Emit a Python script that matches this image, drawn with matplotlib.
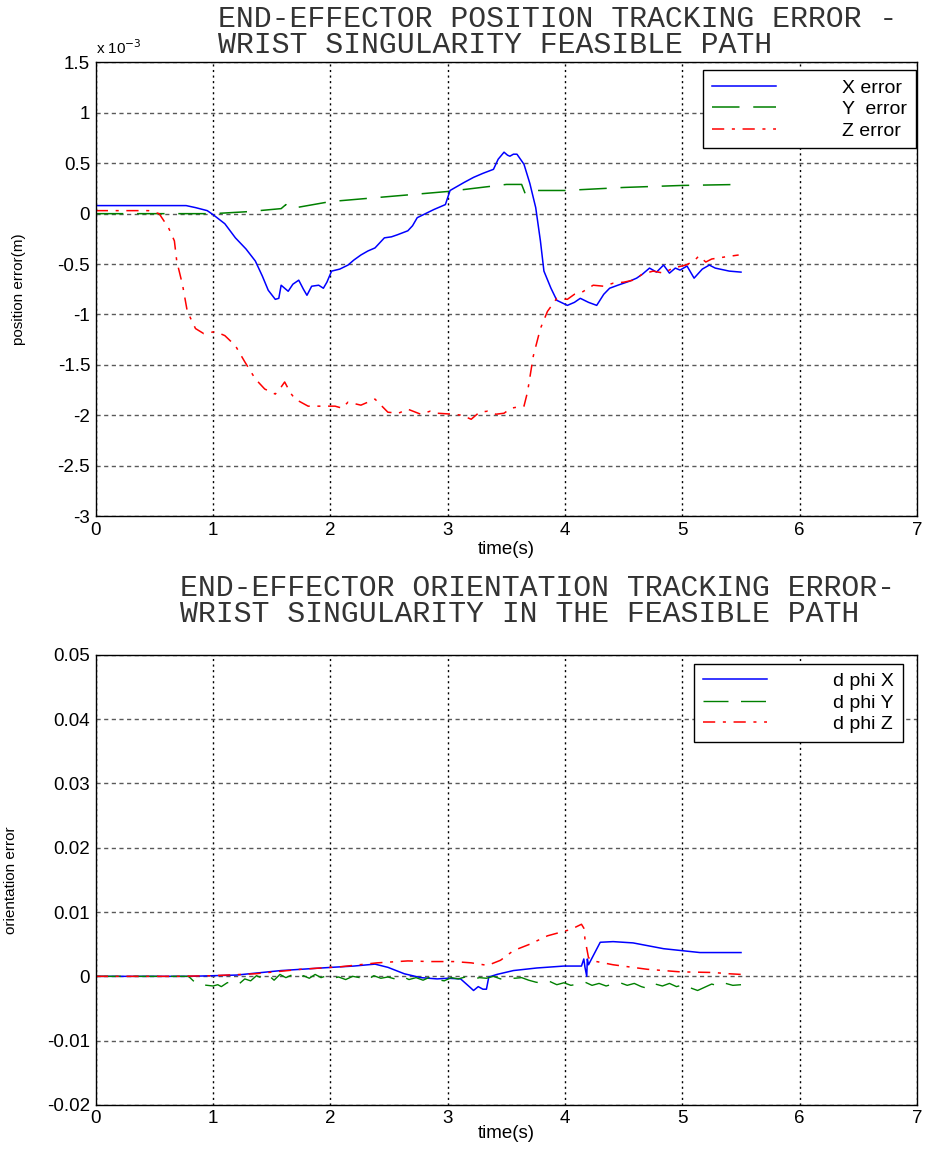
import matplotlib
matplotlib.use("Agg")
import matplotlib.pyplot as plt
from matplotlib.ticker import FuncFormatter, MultipleLocator

plt.rcParams['font.family'] = ['Liberation Sans', 'DejaVu Sans']

# ---- top plot: position error (units of 1e-3 m) ----
t_x = [0, 0.77, 0.85, 0.95, 1.0, 1.1, 1.19, 1.28, 1.36, 1.42,
       1.47, 1.53, 1.56, 1.58, 1.61, 1.64, 1.68, 1.73, 1.77, 1.80,
       1.84, 1.90, 1.94, 1.97, 2.01, 2.08, 2.15, 2.20, 2.26, 2.32,
       2.38, 2.46, 2.52, 2.57, 2.66, 2.70, 2.74, 2.81, 2.88, 2.98,
       3.02, 3.08, 3.14, 3.22, 3.30, 3.39, 3.43, 3.48, 3.51, 3.53,
       3.56, 3.59, 3.65, 3.70, 3.75, 3.79, 3.82, 3.88, 3.93, 4.02,
       4.08, 4.13, 4.20, 4.27, 4.33, 4.38, 4.45, 4.50, 4.55, 4.61,
       4.66, 4.72, 4.78, 4.84, 4.89, 4.94, 4.98, 5.04, 5.10, 5.17,
       5.23, 5.28, 5.32, 5.40, 5.50]
x_err = [0.08, 0.08, 0.06, 0.03, -0.01, -0.10, -0.24, -0.35, -0.47, -0.62,
         -0.76, -0.85, -0.84, -0.71, -0.74, -0.77, -0.70, -0.66, -0.75, -0.81,
         -0.72, -0.71, -0.74, -0.68, -0.57, -0.55, -0.51, -0.46, -0.41, -0.37,
         -0.34, -0.24, -0.23, -0.21, -0.17, -0.12, -0.04, 0.00, 0.04, 0.09,
         0.23, 0.27, 0.31, 0.36, 0.40, 0.44, 0.54, 0.61, 0.58, 0.57,
         0.59, 0.59, 0.49, 0.30, 0.06, -0.27, -0.57, -0.74, -0.86, -0.91,
         -0.88, -0.84, -0.88, -0.91, -0.80, -0.74, -0.71, -0.69, -0.67, -0.64,
         -0.60, -0.54, -0.58, -0.51, -0.59, -0.54, -0.56, -0.52, -0.64, -0.55,
         -0.51, -0.54, -0.55, -0.57, -0.58]

t_y = [0, 1.0, 1.3, 1.58, 1.62, 1.66, 2.0, 2.5, 3.0, 3.5,
       3.63, 3.66, 3.72, 4.0, 4.5, 5.0, 5.5]
y_err = [0.0, 0.0, 0.02, 0.05, 0.09, 0.05, 0.12, 0.17, 0.22, 0.29,
         0.29, 0.20, 0.23, 0.23, 0.26, 0.28, 0.29]

t_z = [0, 0.45, 0.54, 0.62, 0.67, 0.69, 0.74, 0.78, 0.85, 0.92,
       1.02, 1.10, 1.19, 1.27, 1.36, 1.44, 1.53, 1.58, 1.61, 1.66,
       1.70, 1.81, 1.92, 2.04, 2.10, 2.15, 2.26, 2.38, 2.49, 2.58,
       2.66, 2.77, 2.85, 2.91, 3.05, 3.12, 3.20, 3.27, 3.34, 3.41,
       3.48, 3.54, 3.59, 3.65, 3.68, 3.73, 3.79, 3.85, 3.93, 4.02,
       4.08, 4.13, 4.24, 4.33, 4.41, 4.50, 4.58, 4.66, 4.75, 4.84,
       4.92, 5.03, 5.10, 5.14, 5.20, 5.25, 5.36, 5.48]
z_err = [0.03, 0.03, 0.0, -0.14, -0.27, -0.47, -0.71, -0.97, -1.14, -1.19,
         -1.17, -1.21, -1.31, -1.47, -1.64, -1.74, -1.79, -1.72, -1.67, -1.78,
         -1.84, -1.91, -1.91, -1.91, -1.93, -1.87, -1.90, -1.84, -1.97, -1.98,
         -1.94, -1.99, -1.96, -1.98, -1.99, -2.00, -2.04, -1.97, -1.96, -1.99,
         -1.98, -1.93, -1.92, -1.91, -1.77, -1.41, -1.14, -0.97, -0.84, -0.85,
         -0.80, -0.79, -0.71, -0.72, -0.69, -0.68, -0.66, -0.60, -0.57, -0.59,
         -0.54, -0.51, -0.47, -0.42, -0.48, -0.45, -0.43, -0.41]

# ---- bottom plot: orientation error ----
t_px = [0, 0.8, 1.2, 1.58, 2.01, 2.2, 2.38, 2.49, 2.63, 2.77,
        2.91, 3.0, 3.11, 3.19, 3.22, 3.26, 3.30, 3.33, 3.35, 3.42,
        3.56, 3.76, 3.99, 4.14, 4.16, 4.17, 4.185, 4.19, 4.20, 4.24,
        4.30, 4.41, 4.58, 4.84, 5.15, 5.5]
phi_x = [0, 0, 0.0002, 0.0009, 0.0014, 0.0016, 0.0019, 0.0014, 0.0004, -0.0002,
         -0.0004, -0.0003, -0.0004, -0.0017, -0.0022, -0.0016, -0.0020, -0.0020, -0.0001, 0.0003,
         0.0009, 0.0013, 0.0016, 0.0016, 0.0027, 0.0014, 0.0, 0.0027, 0.0018, 0.0032,
         0.0053, 0.0054, 0.0052, 0.0043, 0.0037, 0.0037]

t_py = [0, 0.75, 0.79, 0.82, 0.86, 0.90, 0.95, 1.00, 1.04, 1.07,
        1.12, 1.17, 1.22, 1.27, 1.32, 1.37, 1.42, 1.47, 1.52, 1.57,
        1.62, 1.67, 1.72, 1.77, 1.82, 1.87, 1.92, 1.97, 2.02, 2.07,
        2.13, 2.19, 2.25, 2.31, 2.37, 2.43, 2.49, 2.55, 2.61, 2.67,
        2.73, 2.79, 2.85, 2.91, 2.97, 3.03, 3.09, 3.15, 3.21, 3.27,
        3.33, 3.39, 3.45, 3.51, 3.57, 3.63, 3.69, 3.75, 3.81, 3.87,
        3.93, 3.99, 4.05, 4.11, 4.17, 4.23, 4.29, 4.35, 4.41, 4.47,
        4.53, 4.59, 4.65, 4.71, 4.77, 4.83, 4.89, 4.95, 5.01, 5.07,
        5.13, 5.19, 5.25, 5.31, 5.37, 5.43, 5.50]
phi_y = [0, 0, 0.0, -0.0005, -0.0012, -0.0013, -0.0014, -0.0015, -0.0013, -0.0016,
         -0.0010, -0.0008, -0.0012, -0.0004, -0.0007, 0.0001, -0.0003, 0.0002, -0.0006, 0.0003,
         -0.0002, 0.0002, -0.0004, 0.0001, -0.0003, 0.0003, -0.0002, 0.0001, -0.0003, -0.0001,
         -0.0005, 0.0000, -0.0002, -0.0006, 0.0001, -0.0003, -0.0001, -0.0004, 0.0000, -0.0005,
         -0.0002, -0.0006, -0.0001, -0.0005, -0.0007, -0.0002, -0.0004, -0.0001, -0.0005, -0.0002,
         -0.0003, 0.0000, -0.0004, -0.0001, -0.0003, -0.0002, -0.0006, -0.0009, -0.0011, -0.0008,
         -0.0013, -0.0010, -0.0014, -0.0012, -0.0009, -0.0014, -0.0011, -0.0015, -0.0012, -0.0010,
         -0.0014, -0.0011, -0.0016, -0.0019, -0.0012, -0.0015, -0.0011, -0.0016, -0.0013, -0.0018,
         -0.0022, -0.0017, -0.0012, -0.0015, -0.0011, -0.0014, -0.0013]

t_pz = [0, 0.7, 1.0, 1.36, 1.75, 2.09, 2.4, 2.66, 2.85, 3.05,
        3.2, 3.34, 3.45, 3.56, 3.7, 3.85, 4.05, 4.14, 4.16, 4.17,
        4.2, 4.24, 4.41, 4.7, 4.98, 5.26, 5.4, 5.5]
phi_z = [0, 0, 0.0001, 0.0004, 0.0011, 0.0015, 0.0021, 0.0024, 0.0023, 0.0023,
         0.0021, 0.0017, 0.0025, 0.0040, 0.0050, 0.0063, 0.0073, 0.0081, 0.0075, 0.0058,
         0.0029, 0.0024, 0.0018, 0.0011, 0.0007, 0.0006, 0.0004, 0.0003]

top_title = "END-EFFECTOR POSITION TRACKING ERROR -\nWRIST SINGULARITY FEASIBLE PATH"
bot_title = "END-EFFECTOR ORIENTATION TRACKING ERROR-\nWRIST SINGULARITY IN THE FEASIBLE PATH"

DASH = (0, (18, 9))
DASHDOT = (0, (8, 5, 2, 5))


def fmt(v, pos):
    return ('%g' % round(v, 6)).replace('\u2212', '-')


def style_axes(ax, ylabel, ylab_x, xlab_y):
    ax.set_xlim(0, 7)
    ax.xaxis.set_major_locator(MultipleLocator(1))
    ax.xaxis.set_major_formatter(FuncFormatter(fmt))
    ax.yaxis.set_major_formatter(FuncFormatter(fmt))
    ax.tick_params(length=0, labelsize=13.5, pad=4)
    ax.xaxis.grid(True, color='black', linestyle=(0, (1.5, 2.5)), linewidth=1.0)
    ax.yaxis.grid(True, color='0.35', linestyle=(0, (3, 2.5)), linewidth=1.0)
    ax.set_axisbelow(True)
    for s in ax.spines.values():
        s.set_linewidth(1.0)
        s.set_color('black')
    ax.set_xlabel('time(s)', fontsize=13.5)
    ax.xaxis.set_label_coords(0.5, xlab_y)
    ax.set_ylabel(ylabel, fontsize=11)
    ax.yaxis.set_label_coords(ylab_x, 0.5)


def add_legend(ax, anchor):
    leg = ax.legend(loc='upper right', bbox_to_anchor=anchor, fontsize=14,
                    handlelength=3.3, handletextpad=3.4, labelspacing=0.2,
                    borderpad=0.45, borderaxespad=0.0, fancybox=False, framealpha=1,
                    edgecolor='black')
    leg.get_frame().set_linewidth(1.0)
    return leg


fig = plt.figure(figsize=(9.3, 11.57), dpi=100)

ax1 = fig.add_axes([0.103, 0.554, 0.883, 0.392])
ax1.plot(t_x, x_err, color='blue', lw=1.1, label='X error')
ax1.plot(t_y, y_err, color='green', lw=1.1, linestyle=DASH, label='Y  error')
ax1.plot(t_z, z_err, color='red', lw=1.1, linestyle=DASHDOT, label='Z error')
ax1.set_ylim(-3, 1.5)
ax1.yaxis.set_major_locator(MultipleLocator(0.5))
style_axes(ax1, 'position error(m)', -0.085, -0.055)
ax1.text(0.0, 1.012, r'x 10$^{-3}$', transform=ax1.transAxes, fontsize=11,
         ha='left', va='bottom')
add_legend(ax1, (0.999, 0.983))

ax2 = fig.add_axes([0.103, 0.045, 0.883, 0.389])
ax2.plot(t_px, phi_x, color='blue', lw=1.1, label='d phi X')
ax2.plot(t_py, phi_y, color='green', lw=1.0, linestyle=DASH, label='d phi Y')
ax2.plot(t_pz, phi_z, color='red', lw=1.1, linestyle=DASHDOT, label='d phi Z')
ax2.set_ylim(-0.02, 0.05)
ax2.yaxis.set_major_locator(MultipleLocator(0.01))
style_axes(ax2, 'orientation error', -0.095, -0.045)
add_legend(ax2, (0.983, 0.98))

fig.text(218 / 930, 1 - 5 / 1157, top_title, family='Liberation Mono', fontsize=21.5,
         ha='left', va='top', linespacing=0.92, color='0.2')
fig.text(180 / 930, 1 - 574 / 1157, bot_title, family='Liberation Mono', fontsize=21.5,
         ha='left', va='top', linespacing=0.92, color='0.2')

fig.savefig('out.png', dpi=100)
